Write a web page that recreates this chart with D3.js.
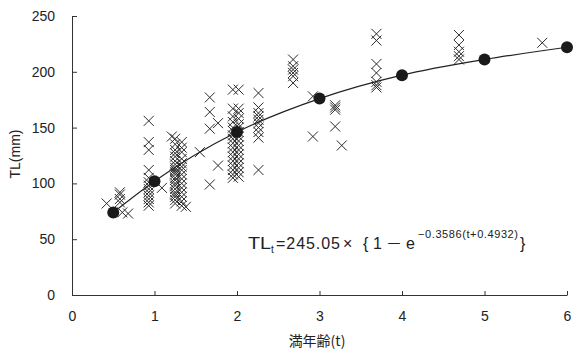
<!DOCTYPE html>
<html>
<head>
<meta charset="utf-8">
<script src="https://cdn.jsdelivr.net/npm/d3@7"></script>
<style>
  body { margin: 0; background: #fff; }
  svg text { font-family: "Liberation Sans", Arial, sans-serif; fill: #222; }
</style>
</head>
<body>
<div id="chart"></div>
<script>
// observed ages (t) and total lengths (mm) of individuals
const crossAges = [0.42, 0.58, 0.61, 0.68, 0.93, 1.09, 1.21, 1.25, 1.33, 1.38, 1.55, 1.67, 1.77, 1.95, 2.02, 2.26, 2.68, 2.92, 3.19, 3.27, 3.69, 4.69, 5.7];
const crossTL = [
  [82],
  [92, 90, 86, 83],
  [74],
  [73],
  [156, 137, 130, 112, 105, 101, 98, 95, 92, 89, 86, 83, 80],
  [96],
  [142],
  [140, 135, 130, 127, 124, 120, 117, 114, 112, 110, 108, 105, 103, 100, 98, 95, 92, 90, 88, 85, 82],
  [137, 132, 128, 122, 118, 115, 112, 108, 104, 100, 96, 92, 88, 84, 80],
  [79],
  [128],
  [177, 164, 149, 99],
  [154, 116],
  [184, 167, 160, 155, 150, 147, 143, 140, 136, 132, 128, 124, 120, 116, 112, 108, 105],
  [184, 167, 163, 158, 153, 150, 146, 142, 138, 134, 130, 126, 122, 118, 114, 110, 106],
  [181, 168, 163, 160, 157, 154, 150, 146, 141, 112],
  [211, 205, 202, 199, 196, 190],
  [178, 142],
  [170, 168, 166, 151],
  [134],
  [234, 228, 207, 199, 191, 188, 186],
  [233, 224, 218, 214, 211],
  [226]
];

// mean length at age (filled circles)
const meanAges = [0.5, 1, 2, 3, 4, 5, 6];
const meanTL = [74, 102, 146, 176, 197, 211, 222];

const xTicks = [0, 1, 2, 3, 4, 5, 6];
const yTicks = [0, 50, 100, 150, 200, 250];

const width = 575, height = 352;
const svg = d3.select('#chart').append('svg')
  .attr('width', width)
  .attr('height', height);

const x = d3.scaleLinear().domain([0, 6]).range([72, 567]);
const y = d3.scaleLinear().domain([0, 250]).range([295, 16]);

// axes
const xAxis = svg.append('g')
  .attr('transform', `translate(0,${y(0)})`)
  .call(d3.axisBottom(x).tickValues(xTicks).tickFormat(d3.format('d'))
    .tickSizeInner(-4).tickSizeOuter(0).tickPadding(16));
const yAxis = svg.append('g')
  .attr('transform', `translate(${x(0)},0)`)
  .call(d3.axisLeft(y).tickValues(yTicks).tickFormat(d3.format('d'))
    .tickSizeInner(-5).tickSizeOuter(0).tickPadding(17));

[xAxis, yAxis].forEach(g => {
  g.select('.domain').attr('stroke', '#333');
  g.selectAll('.tick line').attr('stroke', '#333');
  g.selectAll('.tick text')
    .attr('font-size', 14)
    .attr('font-family', '"Liberation Sans", Arial, sans-serif')
    .attr('fill', '#222');
});

// crosses
const pts = [];
crossAges.forEach((t, i) => crossTL[i].forEach(v => pts.push([t, v])));
svg.append('g').selectAll('path')
  .data(pts)
  .enter()
  .append('path')
  .attr('transform', d => `translate(${x(d[0])},${y(d[1])})`)
  .attr('d', 'M-5,-5L5,5M-5,5L5,-5')
  .attr('stroke', '#2a2a2a')
  .attr('stroke-width', 1)
  .attr('fill', 'none');

// growth curve through the mean points
const meanPts = meanAges.map((t, i) => [t, meanTL[i]]);
svg.append('path')
  .datum(meanPts)
  .attr('d', d3.line().x(d => x(d[0])).y(d => y(d[1])).curve(d3.curveMonotoneX))
  .attr('fill', 'none')
  .attr('stroke', '#222')
  .attr('stroke-width', 1.2);

svg.append('g').selectAll('circle')
  .data(meanPts)
  .enter()
  .append('circle')
  .attr('cx', d => x(d[0]))
  .attr('cy', d => y(d[1]))
  .attr('r', 6)
  .attr('fill', '#1a1a1a');

// axis titles
svg.append('text')
  .attr('x', 317).attr('y', 346)
  .attr('text-anchor', 'middle')
  .attr('font-size', 14)
  .style('font-family', '"Noto Sans CJK JP", sans-serif')
  .text('満年齢(t)');

svg.append('text')
  .attr('transform', 'translate(20,154) rotate(-90)')
  .attr('text-anchor', 'middle')
  .attr('font-size', 14)
  .text('TL(mm)');

// equation
const eq = svg.append('text')
  .attr('y', 249)
  .attr('font-size', 16);
eq.append('tspan').attr('x', 248).attr('textLength', 23).attr('lengthAdjust', 'spacingAndGlyphs').text('TL');
eq.append('tspan').attr('x', 271).attr('font-size', 10).attr('dy', 4).text('t');
eq.append('tspan').attr('x', 276).attr('dy', -4).attr('textLength', 64).text('=245.05');
eq.append('tspan').attr('x', 343).text('×');
eq.append('tspan').attr('x', 363).text('{');
eq.append('tspan').attr('x', 373).text('1');
eq.append('tspan').attr('x', 386).text('－').style('font-family', '"Noto Sans CJK JP", sans-serif');
eq.append('tspan').attr('x', 406).text('e');
eq.append('tspan').attr('x', 418).attr('font-size', 11).attr('dy', -11)
  .attr('textLength', 100).text('−0.3586(t+0.4932)');
eq.append('tspan').attr('x', 520).attr('dy', 11).text('}');
</script>
</body>
</html>
